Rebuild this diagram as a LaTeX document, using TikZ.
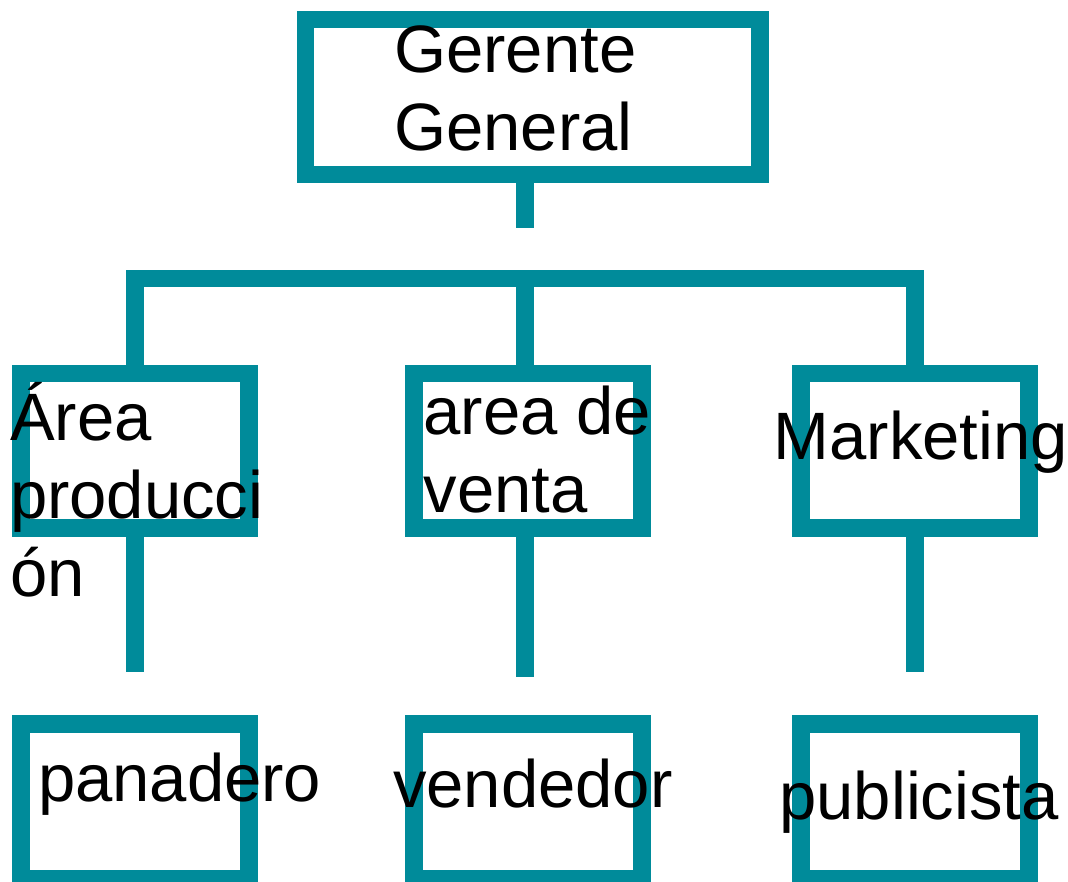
\documentclass[tikz,border=0pt]{standalone}
\usepackage{fontspec}
\setmainfont{Liberation Sans}
\usepackage{xcolor}
\usetikzlibrary{positioning}
\definecolor{tealline}{RGB}{0,139,154}

\begin{document}
\begin{tikzpicture}[x=0.01cm, y=-0.01cm,
    box/.style={draw=tealline, fill=white, line width=4.98pt, rectangle, outer sep=0pt, inner sep=0pt, minimum width=2.275cm, minimum height=1.545cm},
    link/.style={draw=tealline, line width=4.98pt, line join=miter},
    txt/.style={font=\fontsize{19.06pt}{22.2pt}\selectfont, inner sep=0pt, align=left, anchor=base west}]
    \useasboundingbox (0,0) rectangle (1068,881);
    % boxes
    \node [box, minimum width=4.542cm] (node_gerente) at (532.6,97) {};
    \node [box] (node_produccion) at (135,450.7) {};
    \node [box] (node_venta) at (528,450.7) {};
    \node [box] (node_marketing) at (915,450.7) {};
    \node [box] (node_panadero) at (135,801.3) {};
    \node [box] (node_vendedor) at (528,801.3) {};
    \node [box] (node_publicista) at (915,801.3) {};
    % connectors
    \coordinate (stub_top) at (525,227.7);
    \coordinate (bar_mid) at (525,278.7);
    \coordinate (end_1) at (135,671.7);
    \coordinate (end_2) at (525,676.7);
    \coordinate (end_3) at (915,671.7);
    \draw [link] (node_gerente.south -| stub_top) -- (stub_top);
    \draw [link] (node_produccion.north) |- (bar_mid) -| (node_marketing.north);
    \draw [link] (bar_mid) -- (bar_mid |- node_venta.north);
    \draw [link] (node_produccion.south) -- (end_1);
    \draw [link] (node_venta.south -| end_2) -- (end_2);
    \draw [link] (node_marketing.south) -- (end_3);
    % texts (base = last line)
    \node [txt] (txt_gerente) at (393.5,150.7) {Gerente\\General};
    \node [txt] (txt_produccion) at (9.3,596.7) {Área\\producci\\ón};
    \node [txt] (txt_venta) at (423,512.3) {area de\\venta};
    \node [txt] (txt_marketing) at (773,459.3) {Marketing};
    \node [txt] (txt_panadero) at (37.3,801.7) {panadero};
    \node [txt] (txt_vendedor) at (392.3,807.3) {vendedor};
    \node [txt] (txt_publicista) at (778.6,819.3) {publicista};
\end{tikzpicture}
\end{document}
